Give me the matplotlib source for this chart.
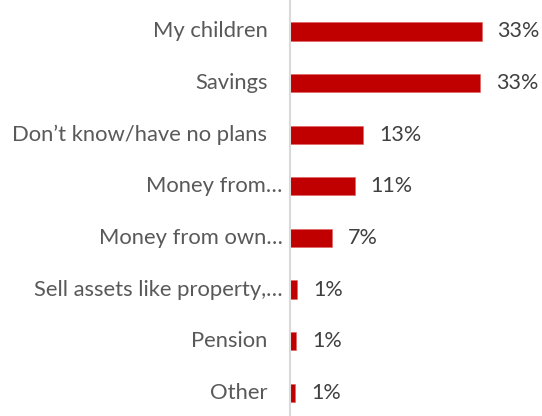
import matplotlib.pyplot as plt
from matplotlib.transforms import offset_copy

categories = ["My children", "Savings", "Don\u2019t know/have no plans",
              "Money from\u2026", "Money from own\u2026",
              "Sell assets like property,\u2026", "Pension", "Other"]
shares = [33.0, 32.7, 12.6, 11.2, 7.2, 1.3, 1.1, 0.9]

BAR_RED = "#C00000"
LABEL_GREY = "#595959"
VALUE_GREY = "#404040"

plt.rcParams["font.family"] = ["Lato", "DejaVu Sans"]

fig = plt.figure(figsize=(5.42, 4.16), dpi=100)
ax = fig.add_axes([0.5345, 0.0, 0.46, 1.0])

pos = list(range(len(categories)))
ax.barh(pos, shares, height=0.355, color=BAR_RED,
        edgecolor="#E06060", linewidth=0.4)

ax.set_xlim(0, 250 / 5.83)
ax.set_ylim(7.451, -0.610)

for side in ("top", "right", "bottom"):
    ax.spines[side].set_visible(False)
ax.spines["left"].set_color("#D9D9D9")
ax.spines["left"].set_linewidth(1.5)
ax.set_xticks([])
ax.set_yticks([])

# category names left of the axis; truncated names sit a bit closer
trans = ax.get_yaxis_transform()
for i, name in enumerate(categories):
    dx = -5 if name.endswith("\u2026") else -16
    t = offset_copy(trans, fig=fig, x=dx, y=0, units="points")
    ax.text(0, i, name, transform=t, ha="right", va="center",
            fontsize=15.8, color=LABEL_GREY)

# value labels right of each bar
for i, v in enumerate(shares):
    t = offset_copy(ax.transData, fig=fig, x=11.5, y=0, units="points")
    ax.text(v, i, f"{v:.0f}%", transform=t, ha="left", va="center",
            fontsize=15.5, color=VALUE_GREY)

fig.savefig("out.png", dpi=100)
